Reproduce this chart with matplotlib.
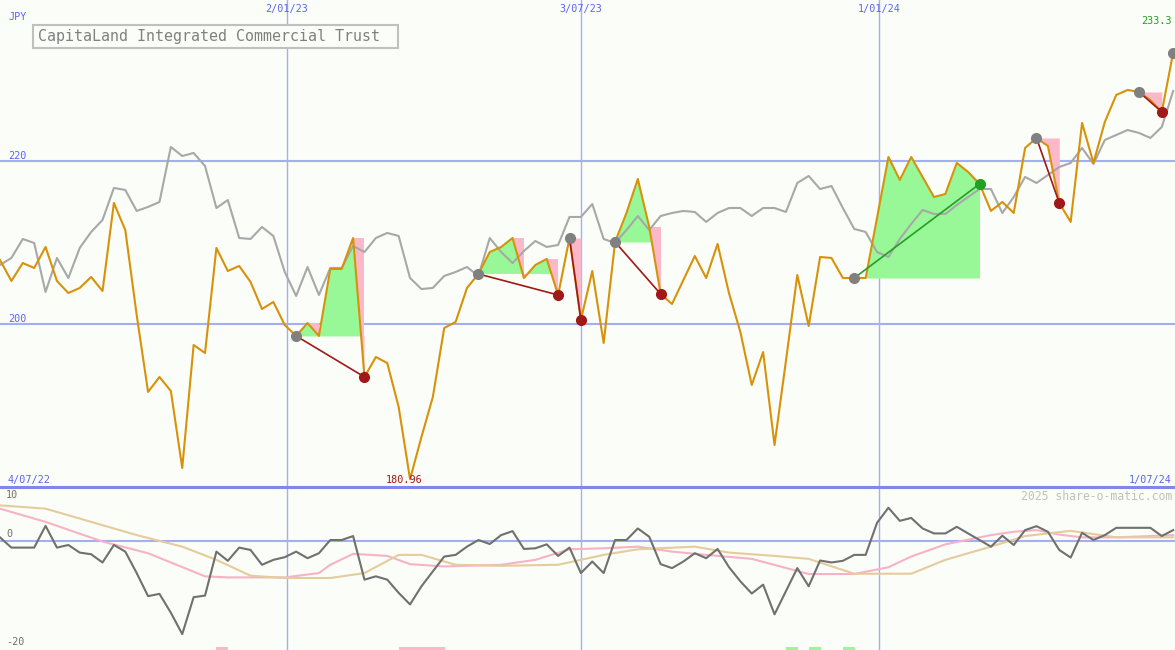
import matplotlib
matplotlib.use("Agg")
import matplotlib.pyplot as plt
import numpy as np

# weekly closes (JPY) and the grey comparison line
price = [207.85, 205.28, 207.48, 206.87, 209.45, 205.28, 203.80, 204.42, 205.77, 204.05,
         214.85, 211.53, 201.10, 191.66, 193.50, 191.78, 182.33, 197.42, 196.44, 209.33,
         206.50, 207.12, 205.15, 201.84, 202.70, 199.88, 198.53, 200.12, 198.53, 206.75,
         206.75, 210.55, 193.50, 195.95, 195.21, 189.82, 180.96, 186.13, 191.04, 199.51,
         200.25, 204.42, 206.14, 208.83, 209.45, 210.55, 205.64, 207.24, 207.98, 203.56,
         210.55, 200.49, 206.50, 197.67, 210.06, 213.62, 217.79, 211.90, 203.68, 202.45,
         205.40, 208.34, 205.64, 209.82, 203.80, 199.02, 192.52, 196.56, 185.15, 195.46,
         206.01, 199.75, 208.22, 208.10, 205.64, 205.64, 205.64, 213.01, 220.49, 217.67,
         220.49, 218.04, 215.58, 215.95, 219.76, 218.65, 217.18, 213.87, 214.97, 213.62,
         221.60, 222.82, 221.84, 214.85, 212.52, 224.67, 219.76, 224.79, 228.10, 228.71,
         228.47, 227.48, 226.01, 233.30]

bench = [207.24, 208.10, 210.43, 209.94, 203.93, 208.10, 205.64, 209.33, 211.29, 212.76,
         216.69, 216.44, 213.87, 214.36, 214.97, 221.72, 220.61, 220.98, 219.39, 214.23,
         215.21, 210.55, 210.43, 211.90, 210.80, 206.38, 203.44, 206.99, 203.56, 206.87,
         206.87, 209.57, 208.83, 210.55, 211.17, 210.80, 205.64, 204.29, 204.42, 205.89,
         206.38, 206.99, 205.89, 210.55, 208.83, 207.48, 208.96, 210.18, 209.45, 209.69,
         213.13, 213.13, 214.72, 210.43, 209.94, 211.53, 213.25, 211.53, 213.25, 213.62,
         213.87, 213.74, 212.52, 213.62, 214.23, 214.23, 213.25, 214.23, 214.23, 213.74,
         217.30, 218.16, 216.56, 216.93, 214.23, 211.66, 211.29, 208.83, 208.22, 210.43,
         212.27, 213.99, 213.50, 213.50, 214.60, 215.58, 216.56, 216.56, 213.62, 215.58,
         218.04, 217.30, 218.28, 219.26, 219.76, 221.60, 219.63, 222.58, 223.19, 223.80,
         223.44, 222.82, 224.17, 228.59]

# trades: (entry week, exit week)
trades = [(26, 32), (42, 49), (50, 51), (54, 58), (75, 86), (91, 93), (100, 102)]
open_entry = 103

date_pos = [25.2, 51.0, 77.2]
date_labels = ["2/01/23", "3/07/23", "1/01/24"]
start_label = "4/07/22"
end_label = "1/07/24"

# lower panel
osc = [0.69, -1.23, -1.23, -1.23, 2.84, -1.23, -0.74, -2.16, -2.47, -4.01,
       -0.74, -1.98, -5.99, -10.3, -9.88, -13.4, -17.4, -10.5, -10.2, -1.98,
       -3.70, -1.23, -1.67, -4.44, -3.52, -3.02, -1.98, -3.21, -2.28, 0.19,
       0.19, 0.93, -7.22, -6.6, -7.22, -9.69, -11.85, -8.46, -5.68, -2.9,
       -2.59, -1.05, 0.19, -0.56, 1.11, 1.85, -1.48, -1.36, -0.62, -2.78,
       -1.23, -5.99, -3.83, -5.99, 0.19, 0.19, 2.35, 0.8, -4.32, -5.06,
       -3.83, -2.28, -3.21, -1.48, -4.88, -7.53, -9.81, -8.15, -13.7, -9.38,
       -5.06, -8.46, -3.64, -4.01, -3.70, -2.59, -2.59, 3.40, 6.23, 3.77,
       4.32, 2.35, 1.42, 1.42, 2.66, 1.42, 0.19, -1.05, 0.99, -0.74,
       2.04, 2.78, 1.73, -1.67, -3.09, 1.54, 0.19, 1.11, 2.47, 2.47,
       2.47, 2.47, 0.93, 2.04]

pink_idx = [0, 4, 9, 13, 18, 20, 25, 28, 29, 31, 34, 36, 39, 44, 47, 50, 53, 56, 59,
            62, 66, 71, 75, 78, 80, 83, 87, 89, 91, 93, 95, 98, 101, 103]
pink_val = [6.05, 3.58, -0.1, -2.28, -6.6, -6.8, -6.8, -5.99, -4.44, -2.4, -2.78, -4.32,
            -4.75, -4.44, -3.52, -1.54, -1.36, -1.05, -1.98, -2.59, -3.33, -6.17, -6.17,
            -4.9, -2.9, -0.62, 1.11, 1.73, 2.04, 1.2, 0.69, 0.69, 0.93, 1.11]

tan_idx = [0, 4, 7, 12, 16, 19, 22, 25, 29, 32, 35, 37, 40, 44, 49, 53, 56, 61, 64,
           68, 71, 75, 80, 83, 87, 90, 94, 98, 103]
tan_val = [6.67, 6.05, 4.2, 1.11, -1.05, -3.52, -6.48, -6.91, -6.91, -5.99, -2.59, -2.59,
           -4.44, -4.63, -4.44, -2.59, -1.54, -1.05, -2.16, -2.78, -3.33, -6.11, -6.11,
           -3.52, -1.05, 0.93, 1.91, 0.69, 0.69]

sig_down = [19, 35, 36, 37, 38]
sig_up = [69, 71, 74]

bg = "#fbfdf8"
blue = "#5a64f0"
grid = "#a4aef2"
orange = "#d8920a"
red = "#a01818"
green = "#22a022"
fill_g = "#98f898"
fill_p = "#fbb8c8"
mono = "DejaVu Sans Mono"

idx = np.arange(len(price))
price = np.array(price)

fig = plt.figure(figsize=(11.75, 6.5), dpi=100)
fig.patch.set_facecolor(bg)
ax = fig.add_axes([0, 163 / 650, 1, 487 / 650])
ax2 = fig.add_axes([0, 0, 1, 163 / 650])
for a in (ax, ax2):
    a.set_facecolor(bg)
    a.set_axis_off()
    a.set_xlim(0, 103.16)
    for d in date_pos:
        a.axvline(d, color=grid, lw=1, zorder=0)

ax.set_ylim(180.0, 239.75)
ax2.set_ylim(-20.37, 10.1)

for lvl in (200, 220):
    ax.axhline(lvl, color=grid, lw=1.5, zorder=0)
    ax.text(8 / 1175, lvl, str(lvl), transform=ax.get_yaxis_transform(), color=blue,
            fontsize=7.3, family=mono, va="bottom", ha="left")
ax2.axhline(0, color=grid, lw=1.5, zorder=0)
fig.add_artist(plt.Line2D([0, 1], [163 / 650] * 2, color="#7c88ea", lw=2.2,
                          transform=fig.transFigure))

# trade shading
for a_, b_ in trades:
    xs = idx[a_:b_ + 1]
    ps = price[a_:b_ + 1]
    e = price[a_]
    ax.fill_between(xs, ps, e, where=ps <= e, interpolate=True, color=fill_p, lw=0, zorder=1)
    for j in range(len(xs) - 1):
        if ps[j] > e and ps[j + 1] <= e:
            ax.fill([xs[j], xs[j + 1], xs[j + 1]], [ps[j], ps[j], ps[j + 1]],
                    color=fill_p, lw=0, zorder=1)
    ax.fill_between(xs, ps, e, where=ps >= e, interpolate=True, color=fill_g, lw=0, zorder=1.5)

ax.plot(idx, bench, color="#a8a8a8", lw=1.5, zorder=2)
ax.plot(idx, price, color=orange, lw=1.5, zorder=3)

for a_, b_ in trades:
    win = price[b_] > price[a_]
    c = green if win else red
    ax.plot([a_, b_], [price[a_], price[b_]], color=c, lw=1.2, zorder=4)
    ax.plot(a_, price[a_], "o", color="#808080", ms=7, zorder=5)
    ax.plot(b_, price[b_], "o", color=c, ms=7, zorder=5)
ax.plot(open_entry, price[open_entry], "o", color="#808080", ms=7, zorder=5)

# labels
for d, lab in zip(date_pos, date_labels):
    ax.text(d, 1 - 9 / 487, lab, transform=ax.get_xaxis_transform(), color=blue,
            fontsize=7.3, family=mono, ha="center", va="center")
fig.text(8 / 1175, 1 - 17 / 650, "JPY", color=blue, fontsize=7.3, family=mono, va="center")
fig.add_artist(plt.Rectangle((33 / 1175, 1 - 48 / 650), 365 / 1175, 23 / 650,
                             transform=fig.transFigure, fc=bg, ec="#c0c0c0", lw=1.5))
fig.text(38 / 1175, 1 - 36.5 / 650, "CapitaLand Integrated Commercial Trust", color="#808080",
         fontsize=10.8, family=mono, va="center", ha="left")
fig.text(1172 / 1175, 1 - 21 / 650, f"{price[-1]:.1f}", color=green, fontsize=7.3,
         family=mono, ha="right", va="center")

imin = int(np.argmin(price))
ax.text(8 / 1175, 180.2, start_label, transform=ax.get_yaxis_transform(), color=blue,
        fontsize=7.3, family=mono, ha="left", va="bottom")
ax.text(imin - 0.5, 180.2, f"{price[imin]:.2f}", color=red, fontsize=7.3, family=mono,
        ha="center", va="bottom")
ax.text(1172 / 1175, 180.2, end_label, transform=ax.get_yaxis_transform(), color=blue,
        fontsize=7.3, family=mono, ha="right", va="bottom")

# lower panel
ax2.plot(pink_idx, pink_val, color="#f6b2c6", lw=1.5, zorder=2)
ax2.plot(tan_idx, tan_val, color="#e4cc9c", lw=1.5, zorder=2)
ax2.plot(idx, osc, color="#707070", lw=1.5, zorder=3)
ax2.bar(sig_down, 0.6, width=1.05, bottom=-20.37, align="edge", color=fill_p, zorder=1)
ax2.bar(sig_up, 0.6, width=1.1, bottom=-20.37, align="edge", color=fill_g, zorder=1)

ax2.text(6 / 1175, 1 - 3 / 163, "10", transform=ax2.transAxes, color="#707070",
         fontsize=7.3, family=mono, va="top")
ax2.text(6 / 1175, 0.3, "0", transform=ax2.get_yaxis_transform(), color="#707070",
         fontsize=7.3, family=mono, va="bottom")
ax2.text(6 / 1175, 3 / 163, "-20", transform=ax2.transAxes, color="#707070",
         fontsize=7.3, family=mono, va="bottom")
ax2.text(1172 / 1175, 1 - 3 / 163, "2025 share-o-matic.com", transform=ax2.transAxes,
         color="#c0c0c0", fontsize=8.3, family=mono, ha="right", va="top")

fig.savefig("out.png", dpi=100, facecolor=bg)
